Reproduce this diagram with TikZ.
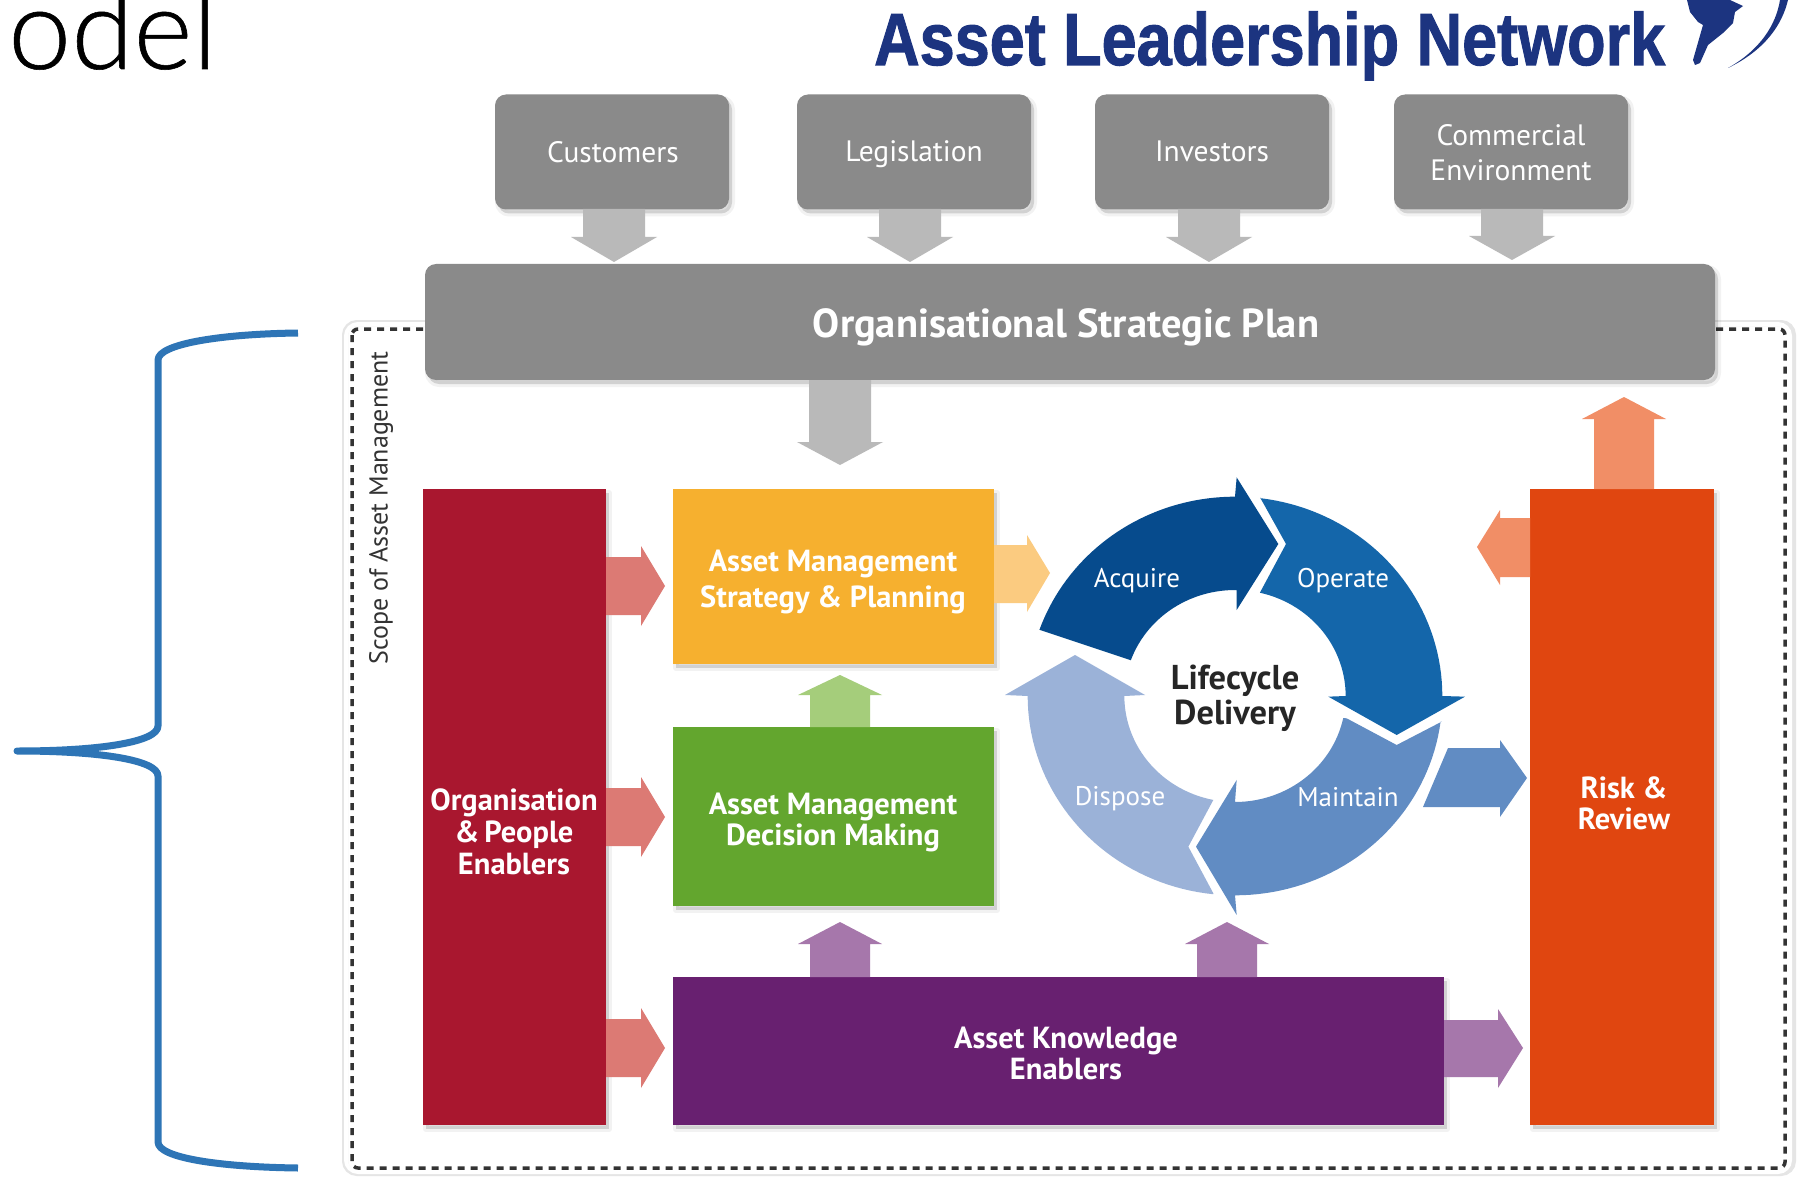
\documentclass[tikz,border=0pt]{standalone}
\usepackage{fontspec}
\usepackage{graphicx}
\setmainfont{PT Sans}
\newfontfamily\slidefont{Lato Light}[FakeBold=0.5]
\newfontfamily\logofont{Liberation Sans}[BoldFeatures={FakeBold=1.5}]
\definecolor{cGrey}{HTML}{8A8A8A}
\definecolor{cArrowGrey}{HTML}{B9B9B9}
\definecolor{cRed}{HTML}{A9172F}
\definecolor{cRedA}{HTML}{DC7A74}
\definecolor{cYellow}{HTML}{F6B02F}
\definecolor{cYellowA}{HTML}{FBCB80}
\definecolor{cGreen}{HTML}{63A62E}
\definecolor{cGreenA}{HTML}{A5CD7B}
\definecolor{cPurple}{HTML}{682070}
\definecolor{cPurpleA}{HTML}{A677AB}
\definecolor{cOrange}{HTML}{E04610}
\definecolor{cOrangeA}{HTML}{F18E66}
\definecolor{cAcquire}{HTML}{064B8D}
\definecolor{cOperate}{HTML}{1466AA}
\definecolor{cMaintain}{HTML}{618CC3}
\definecolor{cDispose}{HTML}{9BB2D8}
\definecolor{cBrace}{HTML}{2E75B6}
\definecolor{cNavy}{HTML}{1C3480}
\tikzset{
  softshadow/.style={preaction={fill=black,fill opacity=.06,draw=black,draw opacity=.05,line width=6pt,line join=round,transform canvas={xshift=3pt,yshift=-4pt}},
                     preaction={fill=black,fill opacity=.08,transform canvas={xshift=3pt,yshift=-4pt}}},
  greybox/.style={fill=cGrey,rounded corners=11pt,softshadow,inner sep=0pt,minimum width=234pt,minimum height=115pt},
  colorbox/.style={softshadow,inner sep=0pt},
  boxlabel/.style={inner sep=0pt,text=white,align=center,font=\fontsize{29.5}{35}\selectfont},
  blocklabel/.style={inner sep=0pt,text=white,align=center,font=\fontsize{30.5}{#1}\selectfont\bfseries},
  blocklabel/.default=32,
  ringlabel/.style={text=white,inner sep=0pt,font=\fontsize{27}{30}\selectfont},
}
\begin{document}
\begin{tikzpicture}[x=1pt,y=-1pt]
\useasboundingbox (0,0) rectangle (1800,1177);
\clip (0,0) rectangle (1800,1177);
\fill[white] (0,0) rectangle (1800,1177);
% slide title fragment
\node[anchor=base west,inner sep=0pt,font=\fontsize{113}{113}\slidefont] (title) at (8,69) {odel};
% logo
\node[anchor=base west,inner sep=0pt,text=cNavy] (logo) at (874,65) {\resizebox{791pt}{\height}{\fontsize{74}{74}\logofont\bfseries Asset Leadership Network}};
\fill[cNavy] (1687,0) -- (1690,12) -- (1698,22) -- (1703,25) -- (1693,60) -- (1695,65) -- (1700,63) -- (1708,45) -- (1723,33) -- (1733,23) -- (1735,12) -- (1743,6) -- (1730,0) -- cycle;
\fill[cNavy] (1728,68) .. controls (1760,50) and (1776,25) .. (1780,0) -- (1788,0) .. controls (1782,25) and (1765,50) .. cycle;
% brace
\coordinate (bTop) at (298,333);
\coordinate (bMid) at (17,751);
\coordinate (bBot) at (298,1168);
\draw[cBrace,line width=7pt,line join=round] (bTop) .. controls (220,334) and (158,344) .. (158,360) -- (158,726) .. controls (158,742) and (100,751) .. (bMid) .. controls (100,751) and (158,760) .. (158,776) -- (158,1142) .. controls (158,1158) and (220,1167) .. (bBot);
% scope frame
\draw[black!10,line width=6pt,rounded corners=12pt,fill=white] (345,323) rectangle (1793,1173);
\draw[white,line width=4pt,rounded corners=12pt] (346,324) rectangle (1790,1172);
\draw[black!80,line width=3.5pt,dash pattern=on 7pt off 6pt,rounded corners=6pt] (352,329) rectangle (1785,1168);
\node[rotate=90,inner sep=0pt,text=black!80,font=\fontsize{26}{30}\selectfont] (scope) at (381,508) {Scope of Asset Management};
% top boxes
\node[greybox] (cust) at (612,152) {};
\node[boxlabel] (custT) at (613,152) {Customers};
\node[greybox] (legi) at (914,152) {};
\node[boxlabel] (legiT) at (914,154) {Legislation};
\node[greybox] (inve) at (1212,152) {};
\node[boxlabel] (inveT) at (1212,151) {Investors};
\node[greybox] (comm) at (1511,152) {};
\node[boxlabel] (commT) at (1511,153) {Commercial\\Environment};
% small arrows
\newcommand{\downarrowshape}[4]{\fill[cArrowGrey] (#1-31,#2) -- (#1+31,#2) -- (#1+31,#3) -- (#1+43,#3) -- (#1,#4) -- (#1-43,#3) -- (#1-31,#3) -- cycle;}
\downarrowshape{614}{209}{237}{262}
\downarrowshape{910}{209}{237}{262}
\downarrowshape{1209}{209}{237}{262}
\downarrowshape{1512}{209}{236}{260}
% strategic plan
\node[fill=cGrey,rounded corners=11pt,softshadow,inner sep=0pt,minimum width=1290pt,minimum height=116pt] (plan) at (1070,322) {};
\node[text=white,inner sep=0pt,font=\fontsize{40.5}{44}\selectfont\bfseries] (planT) at (1066,327) {Organisational Strategic Plan};
\downarrowshape{840}{380}{442}{465}
% colored blocks
\node[colorbox,fill=cRed,minimum width=183pt,minimum height=636pt] (org) at (514.5,807) {};
\node[blocklabel] (orgT) at (514,832) {Organisation\\\&\,People\\Enablers};
\node[colorbox,fill=cYellow,minimum width=321pt,minimum height=175pt] (strat) at (833.5,576.5) {};
\node[blocklabel=36] (stratT) at (833,582) {Asset Management\\Strategy \& Planning};
\node[colorbox,fill=cGreen,minimum width=321pt,minimum height=179pt] (deci) at (833.5,816.5) {};
\node[blocklabel=31] (deciT) at (833,822) {Asset Management\\Decision Making};
\node[colorbox,fill=cPurple,minimum width=771pt,minimum height=148pt] (know) at (1058.5,1051) {};
\node[blocklabel=31] (knowT) at (1066,1053) {Asset Knowledge\\Enablers};
\node[colorbox,fill=cOrange,minimum width=184pt,minimum height=636pt] (risk) at (1622,807) {};
\node[blocklabel=31] (riskT) at (1624,803) {Risk \&\\Review};
% red arrows
\newcommand{\redarrow}[1]{\fill[cRedA] (606,#1-29) -- (641,#1-29) -- (641,#1-40) -- (665,#1) -- (641,#1+40) -- (641,#1+29) -- (606,#1+29) -- cycle;}
\redarrow{586}\redarrow{817}\redarrow{1048}
% yellow arrow
\fill[cYellowA] (994,545) -- (1027,545) -- (1027,535) -- (1050,573) -- (1027,612) -- (1027,603) -- (994,603) -- cycle;
% up arrows
\newcommand{\uparrowshape}[5]{\fill[#5] (#1-30,#2) -- (#1+30,#2) -- (#1+30,#3) -- (#1+42,#3) -- (#1,#4) -- (#1-42,#3) -- (#1-30,#3) -- cycle;}
\uparrowshape{840}{727}{695}{675}{cGreenA}
\uparrowshape{840}{977}{944}{922}{cPurpleA}
\uparrowshape{1227}{977}{944}{922}{cPurpleA}
\uparrowshape{1624}{489}{419}{397}{cOrangeA}
% purple right
\fill[cPurpleA] (1444,1020) -- (1498,1020) -- (1498,1009) -- (1523,1048) -- (1498,1088) -- (1498,1077) -- (1444,1077) -- cycle;
% orange left
\fill[cOrangeA] (1530,518) -- (1500,518) -- (1500,510) -- (1477,547) -- (1500,585) -- (1500,577) -- (1530,577) -- cycle;
% blue right
\fill[cMaintain] (1448,748) -- (1500,748) -- (1500,740) -- (1527,778) -- (1500,817) -- (1500,807) -- (1423,807) -- cycle;
% ring
\begin{scope}[shift={(1000,440)},x=0.33333pt,y=-0.33333pt]
\fill[cDispose] (640,1360) -- plot[domain=264:180,samples=40] ({705+622*cos(\x)},{768-598*sin(\x)}) -- (15,765) -- (225,645) -- (435,765) -- plot[domain=180:258.7,samples=30] ({705+332*cos(\x)},{768-318*sin(\x)}) -- (565,1220) -- cycle;
\fill[cMaintain] (1325,845) -- (1190,915) -- (1040,835) -- plot[domain=-12:-90,samples=30] ({705+332*cos(\x)},{768-318*sin(\x)}) -- (710,1020) -- (588,1220) -- (710,1425) -- plot[domain=-90:-7.4,samples=40] ({705+622*cos(\x)},{768-598*sin(\x)}) -- cycle;
\fill[cOperate] (780,172) -- plot[domain=83:0,samples=40] ({705+622*cos(\x)},{768-598*sin(\x)}) -- (1395,770) -- (1190,885) -- (985,770) -- plot[domain=0:77,samples=30] ({705+332*cos(\x)},{768-318*sin(\x)}) -- (858,312) -- cycle;
\fill[cAcquire] (120,570) -- plot[domain=160.6:90,samples=40] ({705+622*cos(\x)},{768-598*sin(\x)}) -- (710,112) -- (835,312) -- (710,510) -- (710,450) -- plot[domain=90:160.3,samples=30] ({705+332*cos(\x)},{768-318*sin(\x)}) -- cycle;
\end{scope}
\node[ringlabel] (acq) at (1137,581) {Acquire};
\node[ringlabel] (ope) at (1343,581) {Operate};
\node[ringlabel] (mai) at (1348,797) {Maintain};
\node[ringlabel] (dis) at (1120,799) {Dispose};
\node[align=center,inner sep=0pt,text=black!85,font=\fontsize{34.5}{35}\selectfont\bfseries] (life) at (1235,698) {Lifecycle\\Delivery};
\end{tikzpicture}
\end{document}
